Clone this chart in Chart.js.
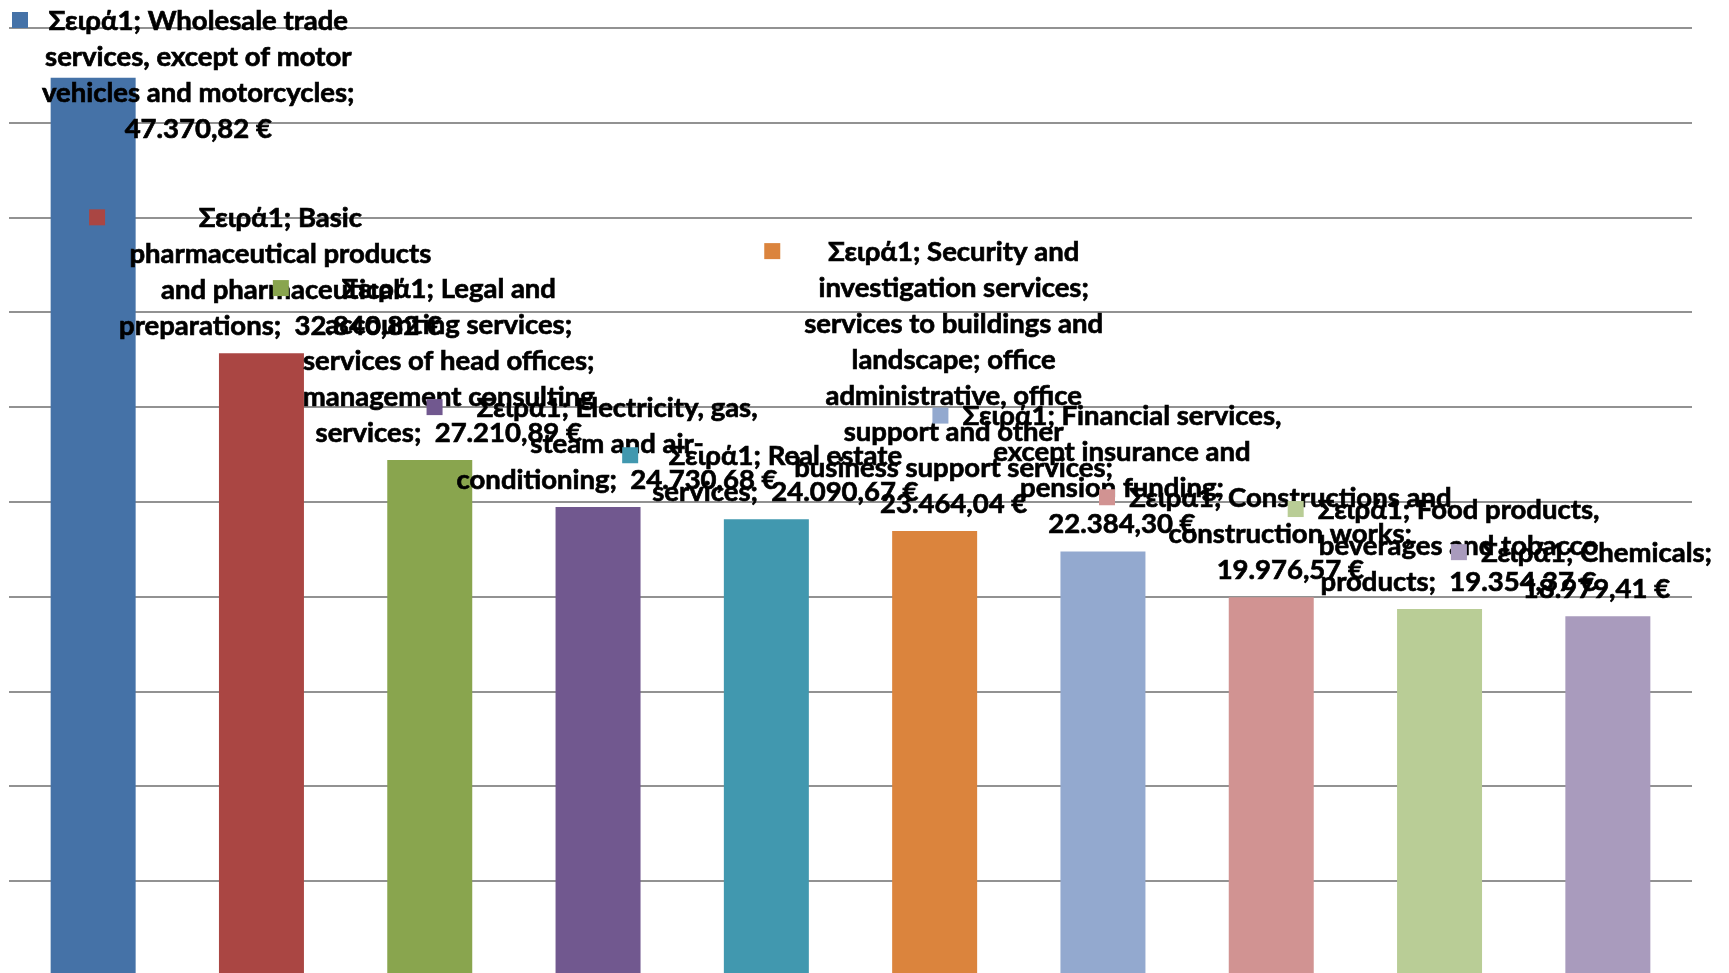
<!DOCTYPE html>
<html>
<head>
<meta charset="utf-8">
<script src="https://cdn.jsdelivr.net/npm/chart.js@4"></script>
<style>
  html, body { margin: 0; padding: 0; background: #fff; overflow: hidden; }
  #wrap { width: 1729px; height: 973px; overflow: hidden; }
</style>
</head>
<body>
<div id="wrap"><canvas id="sector-chart" width="1729" height="1000"></canvas></div>
<script>
// Average per sector (Σειρά1)
var seriesName = 'Σειρά1';

var categories = [
  'Wholesale trade services, except of motor vehicles and motorcycles',
  'Basic pharmaceutical products and pharmaceutical preparations',
  'Legal and accounting services; services of head offices; management consulting services',
  'Electricity, gas, steam and air-conditioning',
  'Real estate services',
  'Security and investigation services; services to buildings and landscape; office administrative, office support and other business support services',
  'Financial services, except insurance and pension funding',
  'Constructions and construction works',
  'Food products, beverages and tobacco products',
  'Chemicals'
];

var values = [47370.82, 32840.82, 27210.89, 24730.68, 24090.67, 23464.04, 22384.30, 19976.57, 19354.37, 18979.41];

var barColors = ['#4572A7', '#AA4643', '#89A54E', '#71588F', '#4198AF', '#DB843D', '#93A9CF', '#D19392', '#B9CD96', '#A99BBD'];

var yMin = 0, yMax = 50000, yStep = 5000;

// words per line for each data label (the way the labels wrap)
var labelWrap = [[3, 4, 3, 1], [2, 2, 2, 2], [3, 2, 4, 2, 2], [3, 3, 2], [3, 2], [3, 2, 4, 2, 2, 3, 3, 1], [3, 3, 2, 1], [3, 2, 1], [3, 3, 2], [2, 1]];

var labelFont = 'bold 27.5px Lato, "Open Sans", sans-serif';
var lineHeight = 36;

function euro(v) {
  var parts = v.toFixed(2).split('.');
  return parts[0].replace(/\B(?=(\d{3})+(?!\d))/g, '.') + ',' + parts[1] + '\u00a0€';
}

function labelLines(i) {
  var words = [];
  (seriesName + '; ' + categories[i] + ';').split(' ').forEach(function (w) {
    w.split(/(?<=-)/).forEach(function (p) { words.push(p); });
  });
  words.push(euro(values[i]));
  var lines = [], k = 0;
  labelWrap[i].forEach(function (n) {
    var line = '';
    for (var j = 0; j < n; j++, k++) {
      var w = words[k];
      if (line === '') line = w;
      else if (k === words.length - 1) line += '  ' + w;
      else if (/-$/.test(line)) line += w;
      else line += ' ' + w;
    }
    lines.push(line);
  });
  return lines;
}

// data labels with legend key, centred over the bar and kept inside the canvas
var barLabels = {
  id: 'barLabels',
  afterDatasetsDraw: function (chart) {
    var ctx = chart.ctx;
    var meta = chart.getDatasetMeta(0);
    ctx.save();
    ctx.font = labelFont;
    ctx.textAlign = 'center';
    ctx.textBaseline = 'middle';
    ctx.lineWidth = 0.7;
    ctx.strokeStyle = '#000';
    meta.data.forEach(function (bar, i) {
      var lines = labelLines(i);
      var maxW = 0;
      lines.forEach(function (l) { maxW = Math.max(maxW, ctx.measureText(l).width); });
      var cx = bar.x + 19;
      if (cx - maxW / 2 - 30 < 12) cx = 12 + 30 + maxW / 2;
      if (cx + maxW / 2 > chart.width - 17) cx = chart.width - 17 - maxW / 2;
      var firstY = bar.y - 27 - (lines.length - 1) * lineHeight;
      if (firstY < 21) firstY = 21;
      ctx.fillStyle = barColors[i];
      ctx.fillRect(cx - maxW / 2 - 30, firstY - 9, 16, 16);
      ctx.fillStyle = '#000';
      lines.forEach(function (l, k) {
        ctx.fillText(l, cx, firstY + k * lineHeight);
        ctx.strokeText(l, cx, firstY + k * lineHeight);
      });
    });
    ctx.restore();
  }
};

var ctx = document.getElementById('sector-chart').getContext('2d');

new Chart(ctx, {
  type: 'bar',
  data: {
    labels: categories,
    datasets: [{
      label: seriesName,
      data: values,
      backgroundColor: barColors,
      borderWidth: 0,
      barPercentage: 0.505,
      categoryPercentage: 1
    }]
  },
  options: {
    responsive: false,
    animation: false,
    layout: { padding: { left: 9, right: 37, top: 28, bottom: 24 } },
    plugins: {
      legend: { display: false },
      tooltip: { enabled: false }
    },
    scales: {
      x: { display: false },
      y: {
        min: yMin,
        max: yMax,
        ticks: { display: false, stepSize: yStep },
        border: { display: false },
        grid: { color: '#929292', lineWidth: 2, drawTicks: false }
      }
    }
  },
  plugins: [barLabels]
});
</script>
</body>
</html>
